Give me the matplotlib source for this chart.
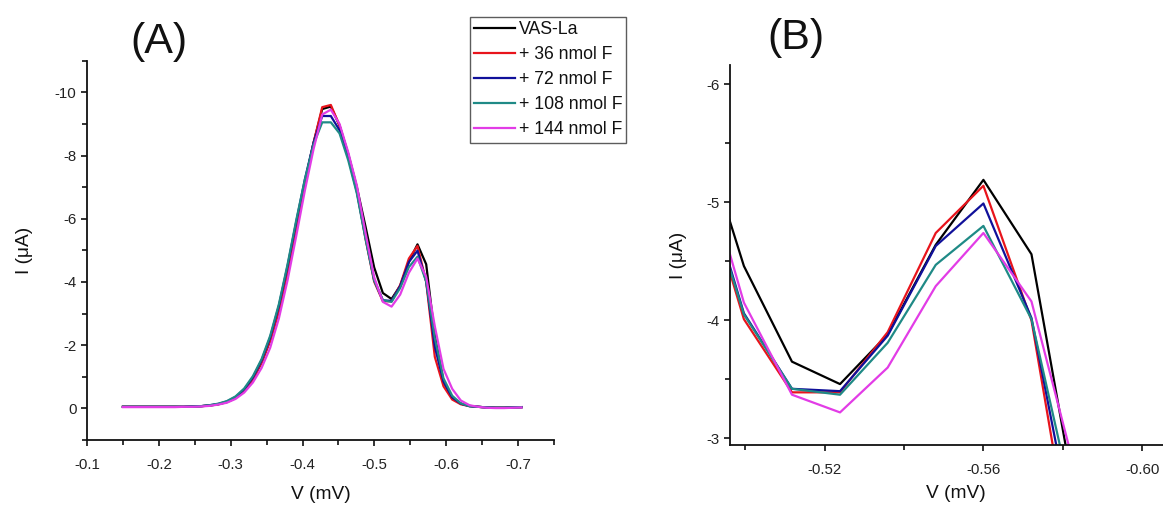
import matplotlib
matplotlib.use("Agg")
import matplotlib.pyplot as plt
from matplotlib.ticker import MultipleLocator, FixedLocator

plt.rcParams['font.family'] = ['Liberation Sans', 'DejaVu Sans']

# ---------------- data ----------------
potential = [-0.1500, -0.1621, -0.1741, -0.1862, -0.1982, -0.2103, -0.2224, -0.2344,
             -0.2465, -0.2585, -0.2706, -0.2827, -0.2947, -0.3068, -0.3188, -0.3309,
             -0.3430, -0.3550, -0.3671, -0.3791, -0.3912, -0.4033, -0.4153, -0.4274,
             -0.4394, -0.4515, -0.4636, -0.4756, -0.4877, -0.4997, -0.5118, -0.5239,
             -0.5359, -0.5480, -0.5600, -0.5721, -0.5841, -0.5962, -0.6083, -0.6203,
             -0.6324, -0.6444, -0.6565, -0.6686, -0.6806, -0.6927, -0.7048]

vas_la = [-0.05, -0.05, -0.05, -0.05, -0.05, -0.05, -0.05, -0.05, -0.06, -0.07,
          -0.09, -0.13, -0.20, -0.33, -0.56, -0.92, -1.45, -2.15, -3.10, -4.35,
          -5.75, -7.15, -8.40, -9.47, -9.55, -8.95, -8.05, -7.00, -5.75, -4.46,
          -3.65, -3.46, -3.88, -4.64, -5.19, -4.56, -2.30, -0.85, -0.33, -0.15,
          -0.08, -0.05, -0.03, -0.02, -0.02, -0.03, -0.04]

f36 = [-0.05, -0.05, -0.05, -0.05, -0.05, -0.05, -0.05, -0.05, -0.06, -0.07,
       -0.09, -0.13, -0.20, -0.33, -0.56, -0.92, -1.45, -2.15, -3.10, -4.35,
       -5.75, -7.15, -8.40, -9.53, -9.60, -8.95, -8.00, -6.90, -5.36, -4.01,
       -3.39, -3.39, -3.90, -4.74, -5.14, -4.00, -1.63, -0.70, -0.28, -0.13,
       -0.07, -0.05, -0.03, -0.02, -0.02, -0.03, -0.04]

f72 = [-0.05, -0.05, -0.05, -0.05, -0.05, -0.05, -0.05, -0.05, -0.06, -0.07,
       -0.10, -0.14, -0.22, -0.36, -0.60, -0.98, -1.52, -2.25, -3.25, -4.50,
       -5.90, -7.25, -8.40, -9.25, -9.25, -8.80, -7.95, -6.85, -5.41, -4.06,
       -3.42, -3.40, -3.87, -4.63, -4.99, -4.02, -1.95, -0.85, -0.35, -0.15,
       -0.07, -0.05, -0.03, -0.02, -0.02, -0.03, -0.04]

f108 = [-0.05, -0.05, -0.05, -0.05, -0.05, -0.05, -0.05, -0.05, -0.06, -0.07,
        -0.10, -0.15, -0.23, -0.38, -0.63, -1.02, -1.56, -2.30, -3.30, -4.55,
        -5.95, -7.25, -8.35, -9.05, -9.05, -8.70, -7.85, -6.80, -5.36, -4.05,
        -3.42, -3.37, -3.81, -4.47, -4.80, -4.01, -2.22, -0.95, -0.40, -0.16,
        -0.07, -0.05, -0.03, -0.02, -0.02, -0.03, -0.04]

f144 = [-0.04, -0.04, -0.04, -0.04, -0.04, -0.04, -0.04, -0.05, -0.05, -0.06,
        -0.08, -0.12, -0.18, -0.30, -0.50, -0.82, -1.28, -1.92, -2.85, -4.05,
        -5.45, -6.90, -8.20, -9.30, -9.45, -9.00, -8.10, -7.05, -5.55, -4.15,
        -3.37, -3.22, -3.60, -4.29, -4.74, -4.16, -2.60, -1.25, -0.62, -0.25,
        -0.10, -0.05, -0.02, -0.01, -0.01, -0.02, -0.03]

labels = ["VAS-La", "+ 36 nmol F", "+ 72 nmol F", "+ 108 nmol F", "+ 144 nmol F"]
series = [vas_la, f36, f72, f108, f144]
colors = ["#000000", "#e8141c", "#10109a", "#1f8a86", "#e23ce6"]

xticks_a = [-0.1, -0.2, -0.3, -0.4, -0.5, -0.6, -0.7]
yticks_a = [-10, -8, -6, -4, -2, 0]
xticks_b = [-0.52, -0.56, -0.60]
yticks_b = [-6, -5, -4, -3]

# ---------------- figure ----------------
W, H = 1163, 508
fig = plt.figure(figsize=(W / 100, H / 100), dpi=100)

def px_axes(left, top, right, bottom):
    return fig.add_axes([left / W, 1 - bottom / H, (right - left) / W, (bottom - top) / H])

axA = px_axes(87, 60.7, 554, 440)
axB = px_axes(730, 65, 1182, 445)

tick_col = "#222222"
for ax in (axA, axB):
    for s in ("top", "right"):
        ax.spines[s].set_visible(False)
    for s in ("left", "bottom"):
        ax.spines[s].set_linewidth(1.3)
        ax.spines[s].set_color("#111111")
    ax.tick_params(which="major", direction="out", length=4.5, width=1.2,
                   labelsize=10.8, colors="#111111", labelcolor=tick_col, pad=8.5)
    ax.tick_params(which="minor", direction="out", length=3.8, width=1.2, colors="#111111")
    ax.tick_params(axis="y", which="major", pad=3)
    ax.set_facecolor("white")

lines = []
for ys, c, lab in zip(series, colors, labels):
    ln, = axA.plot(potential, ys, color=c, lw=1.6, label=lab)
    lines.append(ln)
    axB.plot(potential, ys, color=c, lw=1.6)

axA.set_xlim(-0.1, -0.75)
axA.set_ylim(1.0, -11.0)
axA.xaxis.set_major_locator(FixedLocator(xticks_a))
axA.xaxis.set_minor_locator(MultipleLocator(0.05))
axA.yaxis.set_major_locator(FixedLocator(yticks_a))
axA.yaxis.set_minor_locator(MultipleLocator(1))
axA.set_xticklabels([f"{v:.1f}" for v in xticks_a])
axA.set_yticklabels([f"{v:d}" for v in yticks_a])

axB.set_xlim(-0.4962, -0.61)
axB.set_ylim(-2.944, -6.163)
axB.xaxis.set_major_locator(FixedLocator(xticks_b))
axB.xaxis.set_minor_locator(MultipleLocator(0.02))
axB.yaxis.set_major_locator(FixedLocator(yticks_b))
axB.yaxis.set_minor_locator(MultipleLocator(0.5))
axB.set_xticklabels([f"{v:.2f}" for v in xticks_b])
axB.set_yticklabels([f"{v:d}" for v in yticks_b])

axA.set_xlabel("V (mV)", fontsize=13.8, color="#111111", labelpad=10)
axB.set_xlabel("V (mV)", fontsize=13.8, color="#111111", labelpad=6)
axA.set_ylabel("I (\u03bcA)", fontsize=13.8, color="#111111", labelpad=16)
axB.set_ylabel("I (\u03bcA)", fontsize=13.8, color="#111111", labelpad=14)

fig.text(159 / W, 1 - 42 / H, "(A)", fontsize=31, ha="center", va="center", color="#111111")
fig.text(796 / W, 1 - 38 / H, "(B)", fontsize=31, ha="center", va="center", color="#111111")

leg = fig.legend(handles=lines, labels=labels, loc="upper left",
                 bbox_to_anchor=(470 / W, 1 - 17 / H), bbox_transform=fig.transFigure,
                 borderaxespad=0, fontsize=12.7, frameon=True, fancybox=False,
                 handlelength=2.3, handletextpad=0.2, labelspacing=0.45,
                 borderpad=0.25, edgecolor="#333333")
leg.get_frame().set_linewidth(1.0)
for t in leg.get_texts():
    t.set_color("#111111")

fig.savefig("out.png", dpi=100, facecolor="white")
